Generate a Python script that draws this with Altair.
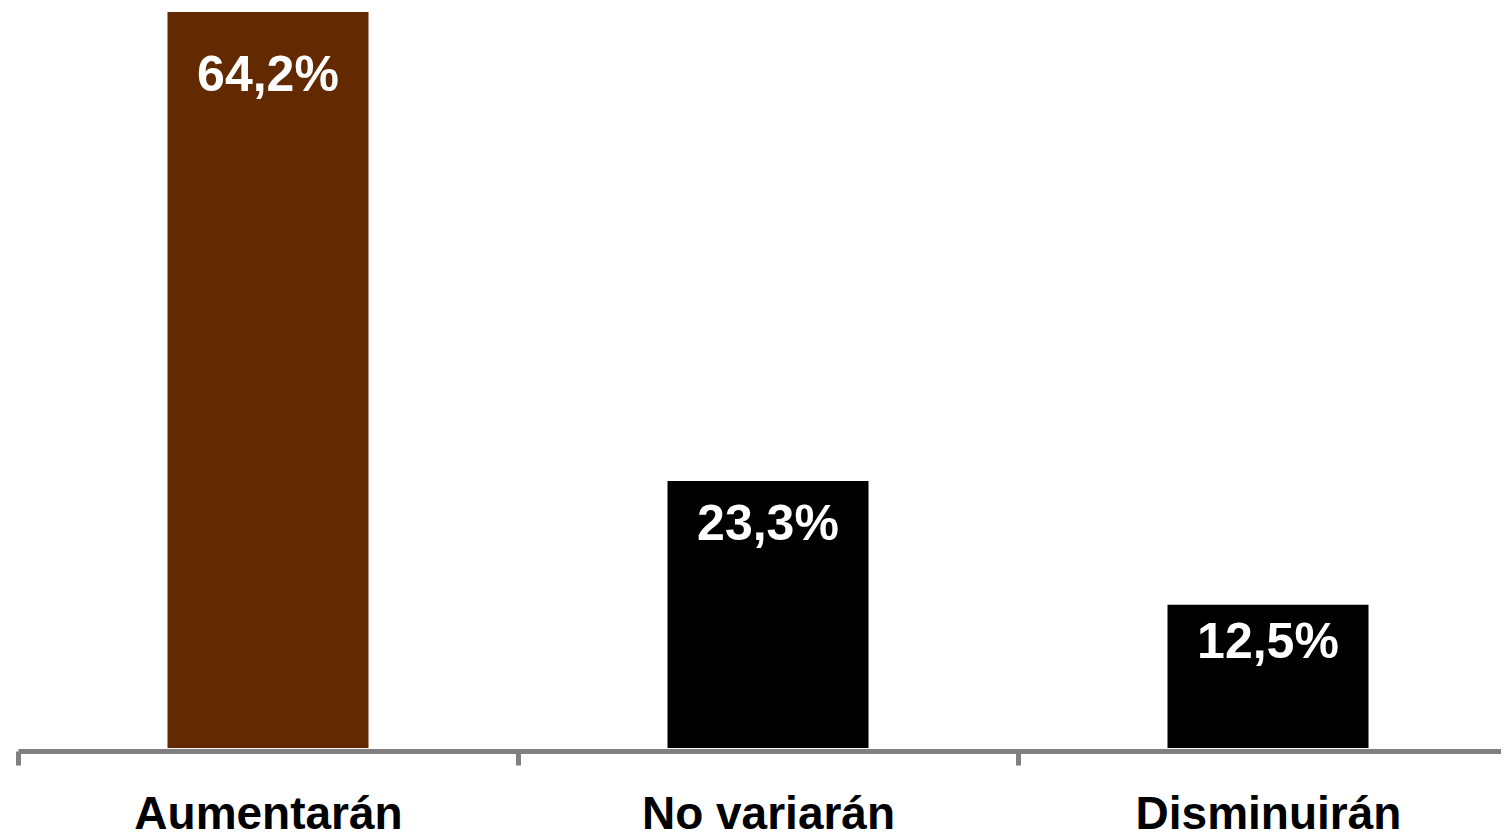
import json
import altair as alt
import pandas as pd

categories = ["Aumentarán", "No variarán", "Disminuirán"]
values = [64.2, 23.3, 12.5]
labels = ["64,2%", "23,3%", "12,5%"]
colors = ["#632901", "#000000", "#000000"]

# slot centres: category i sits in the middle of slot i
pos = [i + 0.5 for i in range(len(categories))]

df = pd.DataFrame({"cat": categories, "pos": pos, "value": values, "label": labels, "color": colors})

FONT = "Liberation Sans"
PLOT_W = 1483
SLOT_PX = 500

tick_vals = []
for i in range(len(categories)):
    tick_vals += [i, i + 0.5]

label_expr = (
    "datum.value % 1 == 0 ? '' : "
    + json.dumps(categories, ensure_ascii=False)
    + "[floor(datum.value)]"
)

xscale = alt.Scale(domain=[0, PLOT_W / SLOT_PX], nice=False, zero=True, padding=0)

x = alt.X(
    "pos:Q",
    title=None,
    scale=xscale,
    axis=alt.Axis(
        values=tick_vals,
        labelExpr=label_expr,
        labelAngle=0,
        labelFont=FONT,
        labelFontSize=46,
        labelFontWeight="bold",
        labelColor="#000000",
        labelBaseline="alphabetic",
        labelAlign="center",
        labelPadding=63,
        labelLimit=0,
        labelOverlap=False,
        labelFlush=False,
        labelBound=False,
        domainColor="#808080",
        domainWidth=5,
        tickColor="#808080",
        tickWidth=5,
        tickSize=14,
        tickOpacity={"condition": {"test": "datum.value % 1 != 0", "value": 0}, "value": 1},
        offset=3,
        grid=False,
    ),
)

yscale = alt.Scale(domain=[0, 64.2], nice=False, zero=True, padding=0)

bars = alt.Chart(df).mark_bar(width=201).encode(
    x=x,
    y=alt.Y("value:Q", scale=yscale, axis=None),
    color=alt.Color("color:N", scale=None),
)

text = (
    alt.Chart(df)
    .transform_calculate(ly="datum.value*0.957-2.81")
    .mark_text(font=FONT, fontSize=50, fontWeight="bold", color="#ffffff", baseline="middle", align="center")
    .encode(
        x=x,
        y=alt.Y("ly:Q", scale=yscale, axis=None),
        text="label:N",
    )
)

chart = (
    alt.layer(bars, text)
    .properties(
        width=PLOT_W,
        height=736,
        autosize=alt.AutoSizeParams(type="none"),
        padding={"left": 10, "top": 4, "right": 0, "bottom": 82},
        background="#ffffff",
    )
    .configure_view(stroke=None)
)

chart.save("out.html", embed_options={"renderer": "svg", "actions": False})
